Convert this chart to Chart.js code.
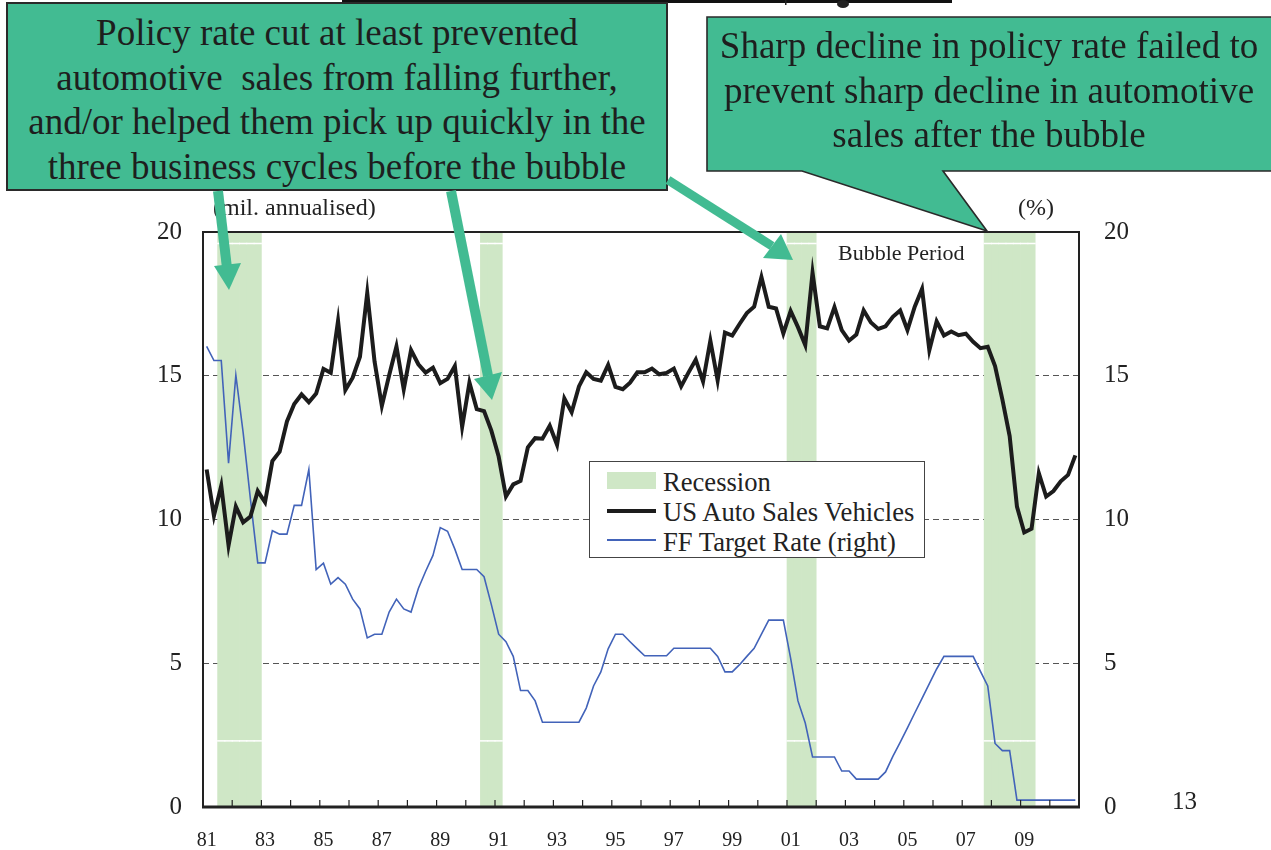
<!DOCTYPE html>
<html lang="en">
<head>
<meta charset="UTF-8">
<title>US auto sales and the policy rate</title>
<script src="https://cdn.jsdelivr.net/npm/chart.js@4"></script>
<style>
  html, body { margin: 0; padding: 0; background: #fff; }
  body { width: 1271px; height: 850px; position: relative; overflow: hidden;
         font-family: "Liberation Serif", "Times New Roman", serif; color: #222; }
  #chart { position: absolute; left: 0; top: 0; }
  svg { position: absolute; left: 0; top: 0; }
  .note { position: absolute; white-space: nowrap; line-height: 1; }
  .callout { position: absolute; text-align: center; white-space: pre; font-size: 37px;
             line-height: 44.7px; color: #1e1e1e; }
  #legend { position: absolute; left: 589px; top: 461px; width: 334px; height: 95px;
            border: 1.5px solid #444; background: #fff; }
  #legend .sw { position: absolute; left: 17px; width: 49px; }
  #legend .tx { position: absolute; left: 73px; font-size: 26.6px; line-height: 30px; white-space: nowrap; }
</style>
</head>
<body>
<canvas id="chart" width="1271" height="850"></canvas>

<div class="note" style="left:213px; top:195px; font-size:24px;">(mil. annualised)</div>
<div class="note" style="left:1018px; top:195px; font-size:24px;">(%)</div>
<div class="note" style="left:838px; top:242px; font-size:22px;">Bubble Period</div>
<div class="note" style="left:1172px; top:788px; font-size:25px;">13</div>

<div id="legend">
  <div class="sw" style="top:10px; height:17px; background:#cfe7c6;"></div>
  <div class="tx" style="top:5px;">Recession</div>
  <div class="sw" style="top:47px; height:4px; background:#1c1c1c;"></div>
  <div class="tx" style="top:35px;">US Auto Sales Vehicles</div>
  <div class="sw" style="top:77px; height:2px; background:#4263b9;"></div>
  <div class="tx" style="top:65px;">FF Target Rate (right)</div>
</div>

<svg width="1271" height="850">
  <line x1="342" y1="1.5" x2="952" y2="1.5" stroke="#111" stroke-width="3"/>
  <ellipse cx="843" cy="4" rx="6" ry="4" fill="#222"/>
  <rect x="785" y="0" width="1.5" height="5" fill="#222"/>
  <rect x="7" y="3" width="660" height="187" fill="#42bb92" stroke="#2a2a2a" stroke-width="2"/>
  <path d="M707 17 H1280 V171 H943 L987 231 L802 171 H707 Z" fill="#42bb92" stroke="#2a2a2a" stroke-width="1.6"/>
  <g fill="#42bb92" stroke="none">
    <line x1="218" y1="191" x2="227" y2="268" stroke="#42bb92" stroke-width="10"/>
    <polygon points="214,266 241,263 229,290"/>
    <line x1="451" y1="191" x2="488" y2="376" stroke="#42bb92" stroke-width="10"/>
    <polygon points="474,379 502,372 492,400"/>
    <line x1="668" y1="180" x2="772" y2="246" stroke="#42bb92" stroke-width="9"/>
    <polygon points="763,258 781,234 793,260"/>
  </g>
</svg>

<div class="callout" style="left:7px; top:11px; width:660px;">Policy rate cut at least prevented
automotive  sales from falling further,
and/or helped them pick up quickly in the
three business cycles before the bubble</div>
<div class="callout" style="left:707px; top:24px; width:564px;">Sharp decline in policy rate failed to
prevent sharp decline in automotive
sales after the bubble</div>

<script>
// quarterly, 1981Q1 .. 2010Q4
const firstYear = 1981;
const lastYear = 2010;
const quarters = [];
for (let y = firstYear; y <= lastYear; y++) {
  for (let q = 1; q <= 4; q++) quarters.push(y + 'Q' + q);
}

const xTickLabels = ['81', '83', '85', '87', '89', '91', '93', '95', '97', '99', '01', '03', '05', '07', '09'];
const yTicks = [0, 5, 10, 15, 20];

// US auto sales, mil. units annualised
const autoSales = [
  11.74, 10.13, 11.18, 9.10, 10.45, 9.90, 10.10, 10.99, 10.60, 12.03,
  12.36, 13.41, 14.02, 14.35, 14.08, 14.38, 15.24, 15.10, 16.91, 14.50,
  14.93, 15.66, 17.88, 15.50, 13.95, 15.02, 16.02, 14.53, 15.89, 15.40,
  15.11, 15.28, 14.74, 14.89, 15.34, 13.22, 14.76, 13.84, 13.77, 13.09,
  12.19, 10.80, 11.22, 11.34, 12.51, 12.83, 12.81, 13.26, 12.60, 14.21,
  13.73, 14.63, 15.12, 14.89, 14.83, 15.38, 14.61, 14.53, 14.76, 15.12,
  15.12, 15.25, 15.05, 15.10, 15.25, 14.63, 15.11, 15.56, 14.80, 16.22,
  14.84, 16.50, 16.40, 16.80, 17.18, 17.40, 18.43, 17.40, 17.34, 16.47,
  17.25, 16.69, 16.07, 18.58, 16.72, 16.65, 17.39, 16.59, 16.22, 16.43,
  17.27, 16.85, 16.63, 16.72, 17.05, 17.27, 16.59, 17.40, 18.02, 15.89,
  16.89, 16.40, 16.54, 16.41, 16.46, 16.18, 15.96, 16.01, 15.34, 14.18,
  12.90, 10.45, 9.55, 9.68, 11.61, 10.80, 10.99, 11.33, 11.55, 12.23
];

// FF target rate, %
const ffTargetRate = [
  16.02, 15.53, 15.53, 11.96, 15.02, 13.02, 10.70, 8.49, 8.49, 9.61,
  9.49, 9.49, 10.49, 10.49, 11.74, 8.26, 8.48, 7.75, 7.98, 7.75,
  7.23, 6.89, 5.88, 6.01, 6.01, 6.78, 7.23, 6.89, 6.78, 7.60,
  8.20, 8.75, 9.72, 9.59, 8.97, 8.26, 8.26, 8.26, 8.01, 7.04,
  6.01, 5.75, 5.24, 4.05, 4.05, 3.69, 2.95, 2.95, 2.95, 2.95,
  2.95, 2.95, 3.44, 4.21, 4.70, 5.50, 6.01, 6.01, 5.75, 5.50,
  5.26, 5.26, 5.26, 5.26, 5.52, 5.52, 5.52, 5.52, 5.52, 5.52,
  5.24, 4.70, 4.70, 4.95, 5.24, 5.52, 6.01, 6.50, 6.50, 6.50,
  5.17, 3.69, 2.92, 1.74, 1.74, 1.74, 1.74, 1.25, 1.25, 0.97,
  0.97, 0.97, 0.97, 1.22, 1.76, 2.25, 2.75, 3.27, 3.78, 4.29,
  4.80, 5.24, 5.24, 5.24, 5.24, 5.24, 4.72, 4.21, 2.21, 1.96,
  1.96, 0.24, 0.24, 0.24, 0.24, 0.24, 0.24, 0.24, 0.24, 0.24
];

// recessions (first and last quarter)
const recessions = [
  ['1981Q3', '1982Q4'],
  ['1990Q3', '1991Q1'],
  ['2001Q1', '2001Q4'],
  ['2007Q4', '2009Q2']
];

const recessionData = quarters.map(q =>
  recessions.some(r => q >= r[0] && q <= r[1]) ? 20 : null);

const serif = '"Liberation Serif", "Times New Roman", serif';

const framePlugin = {
  id: 'frame',
  afterDatasetDraw(chart, args) {
    if (args.index !== 0) return;
    // thin white rules running across the shaded bars
    const ctx = chart.ctx;
    const y = chart.scales.y;
    ctx.save();
    ctx.strokeStyle = '#fff';
    ctx.lineWidth = 1.5;
    chart.getDatasetMeta(0).data.forEach((bar, i) => {
      if (recessionData[i] === null) return;
      [19.6, 2.3].forEach(v => {
        const py = y.getPixelForValue(v);
        ctx.beginPath();
        ctx.moveTo(bar.x - bar.width / 2 - 0.5, py);
        ctx.lineTo(bar.x + bar.width / 2 + 0.5, py);
        ctx.stroke();
      });
    });
    ctx.restore();
  },
  afterDraw(chart) {
    const { ctx, chartArea: a } = chart;
    const x = chart.scales.x;
    ctx.save();
    ctx.strokeStyle = '#222';
    ctx.lineWidth = 2;
    ctx.strokeRect(a.left, a.top, a.right - a.left, a.bottom - a.top);
    ctx.lineWidth = 3;
    ctx.beginPath();
    ctx.moveTo(a.left - 1, a.bottom);
    ctx.lineTo(a.right + 1, a.bottom);
    ctx.stroke();
    // year ticks pointing up into the plot
    const half = (x.getPixelForValue(1) - x.getPixelForValue(0)) / 2;
    ctx.lineWidth = 1.2;
    for (let i = 4; i < quarters.length; i += 4) {
      const px = x.getPixelForValue(i) - half;
      ctx.beginPath();
      ctx.moveTo(px, a.bottom);
      ctx.lineTo(px, a.bottom - 7);
      ctx.stroke();
    }
    ctx.restore();
  }
};

new Chart(document.getElementById('chart').getContext('2d'), {
  data: {
    labels: quarters,
    datasets: [
      {
        type: 'bar',
        label: 'Recession',
        data: recessionData,
        backgroundColor: '#cfe7c6',
        borderWidth: 0,
        barPercentage: 1,
        categoryPercentage: 1,
        yAxisID: 'y',
        order: 3
      },
      {
        type: 'line',
        label: 'FF Target Rate (right)',
        data: ffTargetRate,
        borderColor: '#4263b9',
        borderWidth: 1.6,
        pointRadius: 0,
        tension: 0,
        yAxisID: 'y1',
        order: 2
      },
      {
        type: 'line',
        label: 'US Auto Sales Vehicles',
        data: autoSales,
        borderColor: '#1c1c1c',
        borderWidth: 4,
        pointRadius: 0,
        tension: 0,
        yAxisID: 'y',
        order: 1
      }
    ]
  },
  options: {
    responsive: false,
    animation: false,
    devicePixelRatio: 1,
    layout: { padding: { left: 140, right: 132, top: 232, bottom: 3 } },
    plugins: { legend: { display: false }, tooltip: { enabled: false } },
    scales: {
      x: {
        offset: true,
        grid: { display: false },
        border: { display: false },
        ticks: {
          autoSkip: false,
          maxRotation: 0,
          padding: 14,
          color: '#222',
          font: { family: serif, size: 20 },
          callback: (v, i) => (i % 8 === 0 ? xTickLabels[i / 8] : '')
        },
        afterFit(s) { s.height = 40; }
      },
      y: {
        position: 'left',
        min: 0,
        max: 20,
        afterBuildTicks(s) { s.ticks = yTicks.map(v => ({ value: v })); },
        ticks: { padding: 21, color: '#222', font: { family: serif, size: 25 } },
        grid: {
          drawTicks: false,
          lineWidth: 1,
          color: c => (c.tick && c.tick.value > 0 && c.tick.value < 20 ? '#555' : 'rgba(0,0,0,0)')
        },
        border: { display: false, dash: [6, 4] },
        afterFit(s) { s.width = 63; }
      },
      y1: {
        position: 'right',
        min: 0,
        max: 20,
        afterBuildTicks(s) { s.ticks = yTicks.map(v => ({ value: v })); },
        ticks: { padding: 25, color: '#222', font: { family: serif, size: 25 } },
        grid: { display: false, drawTicks: false },
        border: { display: false },
        afterFit(s) { s.width = 60; }
      }
    }
  },
  plugins: [framePlugin]
});
</script>
</body>
</html>
